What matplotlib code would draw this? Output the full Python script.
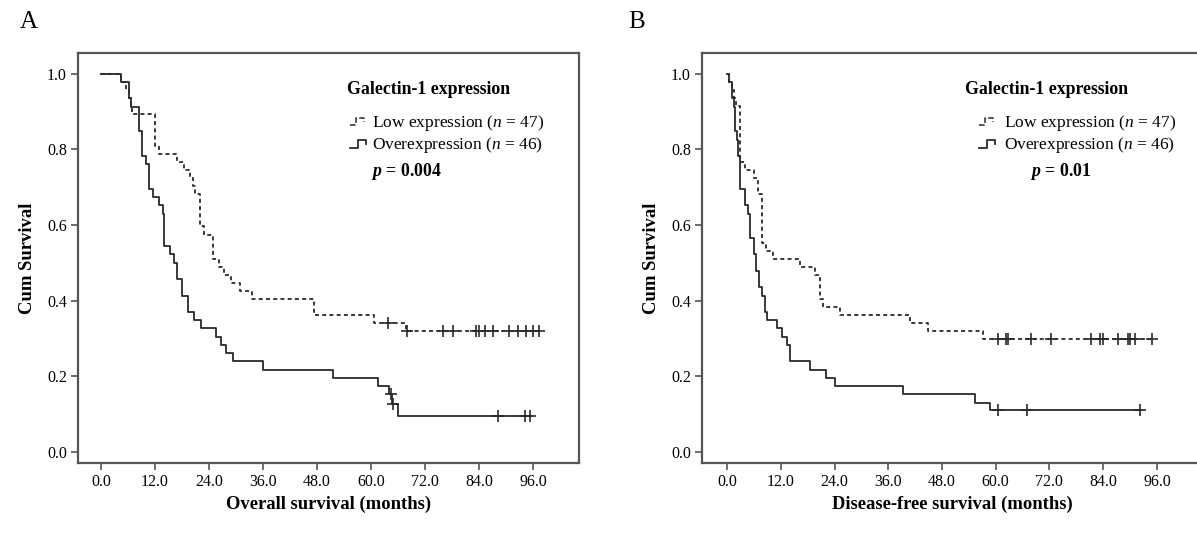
import matplotlib
matplotlib.use("Agg")
import matplotlib.pyplot as plt
from matplotlib.lines import Line2D
from matplotlib.legend_handler import HandlerBase

plt.rcParams['font.family'] = ['Liberation Serif', 'DejaVu Serif']
plt.rcParams['mathtext.fontset'] = 'custom'
plt.rcParams['mathtext.rm'] = 'Liberation Serif'
plt.rcParams['mathtext.it'] = 'Liberation Serif:italic'
plt.rcParams['mathtext.bf'] = 'Liberation Serif:bold'
plt.rcParams['mathtext.bfit'] = 'Liberation Serif:bold:italic'

# ---- Panel A: overall survival ----
a_low_t = [0, 4.4, 5.5, 6.3, 6.7, 7.0, 12.1, 12.9, 17.0, 18.5, 19.8, 20.4, 21.0, 21.9, 23.0,
           24.8, 26.3, 27.4, 28.9, 31.0, 33.5, 47.4, 60.7, 67.8]
a_low_s = [1.0, 0.979, 0.957, 0.936, 0.915, 0.894, 0.809, 0.787, 0.766, 0.745, 0.723, 0.702, 0.681,
           0.596, 0.574, 0.511, 0.489, 0.468, 0.447, 0.426, 0.404, 0.362, 0.340, 0.318]
a_low_end = 97.4
a_low_cens_t = [63.7, 68.1, 75.9, 78.1, 83.3, 83.9, 85.4, 87.0, 90.7, 92.6, 94.4, 95.9, 97.4]
a_low_cens_s = [0.340] + [0.318] * 12

a_over_t = [0, 4.4, 6.3, 6.7, 8.5, 9.2, 10.0, 10.7, 11.5, 13.0, 13.7, 14.1, 15.4, 16.3, 17.0,
            18.1, 19.3, 20.7, 22.2, 25.6, 26.7, 27.8, 29.3, 35.9, 51.5, 61.6, 64.1, 64.6, 65.9]
a_over_s = [1.0, 0.978, 0.935, 0.913, 0.848, 0.783, 0.761, 0.696, 0.674, 0.652, 0.630, 0.543, 0.522,
            0.500, 0.457, 0.413, 0.370, 0.348, 0.326, 0.304, 0.283, 0.261, 0.239, 0.217, 0.196,
            0.174, 0.152, 0.127, 0.095]
a_over_end = 95.6
a_over_cens_t = [64.4, 64.8, 88.1, 94.2, 95.4]
a_over_cens_s = [0.152, 0.127, 0.095, 0.095, 0.095]

# ---- Panel B: disease-free survival ----
b_low_t = [0, 0.5, 1.0, 1.5, 2.0, 2.9, 4.0, 6.0, 7.0, 7.7, 8.6, 10.3, 16.3, 19.6, 20.8, 21.5,
           25.2, 40.8, 44.9, 57.2]
b_low_s = [1.0, 0.979, 0.957, 0.936, 0.915, 0.766, 0.745, 0.723, 0.681, 0.553, 0.532, 0.511, 0.489,
           0.468, 0.404, 0.383, 0.362, 0.340, 0.319, 0.298]
b_low_end = 94.8
b_low_cens_t = [60.6, 62.3, 62.8, 67.8, 72.4, 81.2, 83.3, 83.9, 87.4, 89.6, 90.0, 91.1, 94.8]
b_low_cens_s = [0.298] * 13

b_over_t = [0, 0.5, 1.0, 1.5, 1.8, 2.2, 2.5, 2.9, 4.0, 4.6, 5.2, 6.0, 6.5, 7.2, 7.8, 8.5, 9.0,
            11.1, 12.2, 13.3, 14.1, 18.5, 22.2, 24.1, 39.4, 55.4, 58.7]
b_over_s = [1.0, 0.978, 0.935, 0.913, 0.848, 0.826, 0.783, 0.696, 0.652, 0.630, 0.565, 0.522, 0.478,
            0.435, 0.413, 0.370, 0.348, 0.326, 0.304, 0.283, 0.239, 0.217, 0.196, 0.174, 0.152,
            0.130, 0.109]
b_over_end = 92.4
b_over_cens_t = [60.6, 66.9, 92.2]
b_over_cens_s = [0.109, 0.109, 0.109]

xticks = [0, 12, 24, 36, 48, 60, 72, 84, 96]
yticks = [0.0, 0.2, 0.4, 0.6, 0.8, 1.0]
labels = ['Low expression ($\\mathit{n}$ = 47)', 'Overexpression ($\\mathit{n}$ = 46)']

LOW_DASH = (0, (2.2, 1.8))
CLR = '#2a2a2a'


class StepHandler(HandlerBase):
    # legend icon drawn as a small survival step
    def __init__(self, low):
        super().__init__()
        self.low = low

    def create_artists(self, legend, orig_handle, xdescent, ydescent, width, height, fontsize, trans):
        w, h = width, height
        if self.low:
            xs = [0, 0.35 * w, 0.35 * w, 0.8 * w, 0.8 * w]
            ys = [0.15 * h, 0.15 * h, 0.8 * h, 0.8 * h, 0.45 * h]
        else:
            xs = [0, 0.45 * w, 0.45 * w, 0.9 * w, 0.9 * w]
            ys = [0.1 * h, 0.1 * h, 0.75 * h, 0.75 * h, 0.4 * h]
        ln = Line2D([x - xdescent for x in xs], [y - ydescent for y in ys],
                    color=orig_handle.get_color(), linestyle=orig_handle.get_linestyle(),
                    linewidth=orig_handle.get_linewidth(), transform=trans)
        return [ln]


def km_panel(ax, low, over, xlabel, ptext, xlim, title_x, leg_x, p_x, textpad):
    for (t, s, end, ct, cs), ls in ((low, LOW_DASH), (over, '-')):
        ax.step(t + [end], s + [s[-1]], where='post', color=CLR, linestyle=ls, linewidth=1.3)
        ax.plot(ct, cs, linestyle='none', marker='+', markersize=8, markeredgewidth=1.2, color=CLR)
    ax.set_xlim(*xlim)
    ax.set_ylim(-0.03, 1.055)
    ax.set_xticks(xticks)
    ax.set_xticklabels(['%.1f' % v for v in xticks])
    ax.set_yticks(yticks)
    ax.set_yticklabels(['%.1f' % v for v in yticks])
    ax.tick_params(direction='out', length=5, width=1.2, color='#555555', labelsize=11.5, pad=3)
    for sp in ax.spines.values():
        sp.set_color('#555555')
        sp.set_linewidth(1.6)
    ax.set_xlabel(xlabel, fontsize=13.4, fontweight='bold', labelpad=4)
    ax.set_ylabel('Cum Survival', fontsize=13.4, fontweight='bold', labelpad=8)
    ax.text(title_x, 0.91, 'Galectin-1 expression', transform=ax.transAxes, fontsize=12.8,
            fontweight='bold', va='center', ha='left')
    h_low = Line2D([], [], color=CLR, linestyle=LOW_DASH, linewidth=1.1)
    h_over = Line2D([], [], color=CLR, linestyle='-', linewidth=1.3)
    ax.legend([h_low, h_over], labels, loc='upper left', bbox_to_anchor=(leg_x, 0.853),
              frameon=False, fontsize=12.5, handlelength=1.0, handletextpad=textpad,
              labelspacing=0.1, borderpad=0, borderaxespad=0,
              handler_map={h_low: StepHandler(True), h_over: StepHandler(False)})
    ax.text(p_x, 0.71, ptext, transform=ax.transAxes, fontsize=12.8, fontweight='bold',
            va='center', ha='left')


fig = plt.figure(figsize=(11.97, 5.34), dpi=100)
axA = fig.add_axes([78 / 1197, 71 / 534, 501 / 1197, 410 / 534])
axB = fig.add_axes([702 / 1197, 71 / 534, 501 / 1197, 410 / 534])

km_panel(axA, (a_low_t, a_low_s, a_low_end, a_low_cens_t, a_low_cens_s),
         (a_over_t, a_over_s, a_over_end, a_over_cens_t, a_over_cens_s),
         'Overall survival (months)', '$\\mathbfit{p}$ = 0.004', (-5.1, 106.2),
         0.537, 0.543, 0.585, 0.25)
km_panel(axB, (b_low_t, b_low_s, b_low_end, b_low_cens_t, b_low_cens_s),
         (b_over_t, b_over_s, b_over_end, b_over_cens_t, b_over_cens_s),
         'Disease-free survival (months)', '$\\mathbfit{p}$ = 0.01', (-5.6, 106.3),
         0.525, 0.553, 0.655, 0.45)

fig.text(20 / 1197, 1 - 22 / 534, 'A', fontsize=18, va='center', ha='left')
fig.text(628 / 1197, 1 - 22 / 534, 'B', fontsize=18, va='center', ha='left')

fig.savefig('out.png', dpi=100)
